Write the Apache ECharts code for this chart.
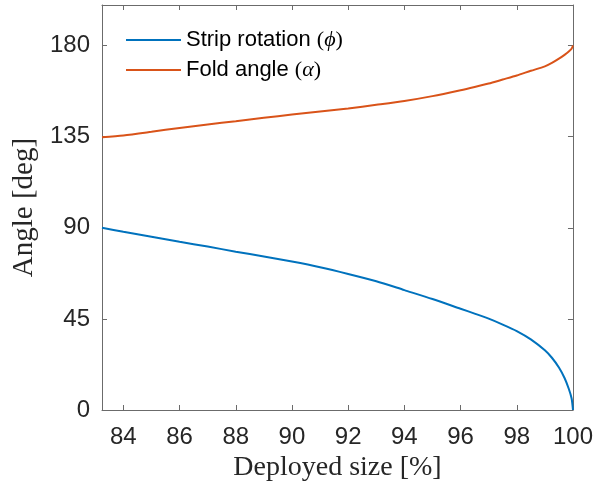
<!DOCTYPE html>
<html>
<head>
<meta charset="utf-8">
<script src="https://cdn.jsdelivr.net/npm/echarts@6/dist/echarts.min.js"></script>
<style>
    html, body {margin: 0; padding: 0; background: #fff;}
    #main {width: 596px; height: 489px;}
</style>
</head>
<body>
<div id="main"></div>
<script>
// deployed size [%] and the two angles
let deployedSize = [83.24, 84, 85, 86, 87, 88, 89, 90, 91, 92, 93, 94, 95, 96, 96.5, 97, 97.5, 98, 98.5, 99, 99.25, 99.5, 99.7, 99.85, 99.95, 100];
let stripRotation = [90, 88.0, 85.6, 83.1, 80.7, 78.2, 75.8, 73.3, 70.5, 67.2, 63.6, 59.2, 54.8, 50.0, 47.6, 45.1, 42.2, 39.0, 34.9, 29.5, 25.8, 21.0, 15.8, 10.5, 5.8, 0];
let foldAngle = [134.7, 135.6, 137.4, 139.3, 141.0, 142.6, 144.3, 145.9, 147.4, 148.9, 150.7, 152.6, 155.0, 157.9, 159.5, 161.2, 163.2, 165.2, 167.5, 169.7, 171.4, 173.5, 175.4, 177.0, 178.4, 180];
let xTicks = [84, 86, 88, 90, 92, 94, 96, 98, 100];
let yTicks = [0, 45, 90, 135, 180];

function pairs(xs, ys) {
    let out = [];
    for (let i = 0; i < xs.length; i++) out.push([xs[i], ys[i]]);
    return out;
}

let axisColor = '#6b6b6b';
let sans = 'Liberation Sans, Arial, Helvetica, sans-serif';
let serif = 'Liberation Serif, Times New Roman, serif';

function xAxisOf(pos, show) {
    return {
        type: 'value',
        position: pos,
        min: 83.24,
        max: 100,
        axisLine: {onZero: false, lineStyle: {color: axisColor, width: 1}},
        axisTick: {inside: true, length: 5, customValues: xTicks, lineStyle: {color: axisColor}},
        axisLabel: {show: show, customValues: xTicks, margin: 15, color: '#262626', fontSize: 24, fontFamily: sans},
        splitLine: {show: false}
    };
}

function yAxisOf(pos, show) {
    return {
        type: 'value',
        position: pos,
        min: 0,
        max: 200,
        axisLine: {onZero: false, lineStyle: {color: axisColor, width: 1}},
        axisTick: {inside: true, length: 5, customValues: yTicks, lineStyle: {color: axisColor}},
        axisLabel: {show: show, customValues: yTicks, margin: 12, color: '#262626', fontSize: 24, fontFamily: sans},
        splitLine: {show: false}
    };
}

let xBottom = xAxisOf('bottom', true);
xBottom.name = 'Deployed size [%]';
xBottom.nameLocation = 'middle';
xBottom.nameGap = 43;
xBottom.nameTextStyle = {color: '#262626', fontSize: 28, fontFamily: serif};

let yLeft = yAxisOf('left', true);
yLeft.name = 'Angle [deg]';
yLeft.nameLocation = 'middle';
yLeft.nameGap = 62;
yLeft.nameTextStyle = {color: '#262626', fontSize: 29, fontFamily: serif};

let myChart = echarts.init(document.getElementById('main'));
let option = {
    animation: false,
    grid: {left: 102, right: 21, top: 5, bottom: 79},
    legend: {
        orient: 'vertical',
        left: 126,
        top: 29,
        padding: 0,
        itemGap: 8,
        icon: 'rect',
        itemWidth: 55,
        itemHeight: 2,
        textStyle: {
            fontSize: 22,
            lineHeight: 22,
            color: '#000',
            fontFamily: sans,
            rich: {
                g: {fontSize: 22, fontFamily: serif, fontStyle: 'italic', color: '#000'},
                p: {fontSize: 22, fontFamily: serif, color: '#000'}
            }
        },
        formatter: function (name) {
            if (name === 'phi') return 'Strip rotation {p|(}{g|ϕ}{p|)}';
            return 'Fold angle {p|(}{g|α}{p|)}';
        }
    },
    xAxis: [xBottom, xAxisOf('top', false)],
    yAxis: [yLeft, yAxisOf('right', false)],
    series: [{
        name: 'phi',
        type: 'line',
        data: pairs(deployedSize, stripRotation),
        showSymbol: false,
        smooth: 0.25,
        color: '#0072BD',
        lineStyle: {width: 2}
    }, {
        name: 'alpha',
        type: 'line',
        data: pairs(deployedSize, foldAngle),
        showSymbol: false,
        smooth: 0.25,
        color: '#D95319',
        lineStyle: {width: 2}
    }]
};
myChart.setOption(option);
</script>
</body>
</html>
